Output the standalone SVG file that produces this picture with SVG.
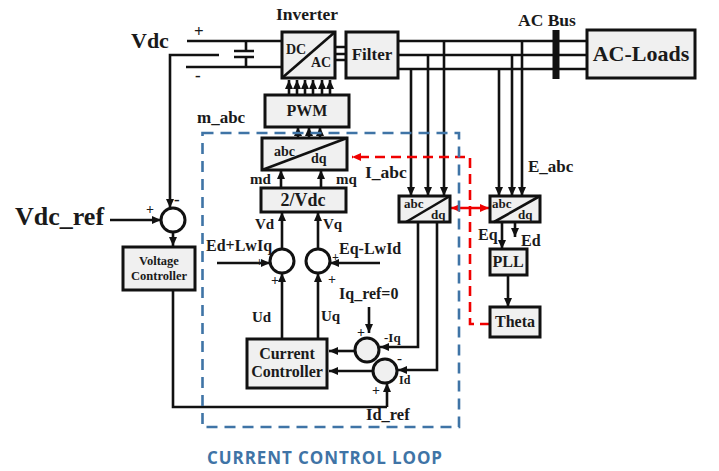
<svg xmlns="http://www.w3.org/2000/svg" width="719" height="471" viewBox="0 0 719 471">
<defs>
<marker id="ah" markerUnits="userSpaceOnUse" markerWidth="10" markerHeight="10" refX="9" refY="5" orient="auto"><path d="M0,1 L9,5 L0,9 Z" fill="#111"/></marker>
<marker id="rh" markerUnits="userSpaceOnUse" markerWidth="10" markerHeight="10" refX="9" refY="5" orient="auto-start-reverse"><path d="M0,1 L9,5 L0,9 Z" fill="#f00000"/></marker>
</defs>
<style>
.b{fill:#f0f0f0;stroke:#111;stroke-width:3}
.c{fill:#f0f0f0;stroke:#111;stroke-width:3}
.w{fill:#fff;stroke:#111;stroke-width:3}
.l{fill:none;stroke:#111;stroke-width:2.6}
.a{fill:none;stroke:#111;stroke-width:2.6;marker-end:url(#ah)}
.t{font-family:"Liberation Serif",serif;font-weight:bold;fill:#1a1a1a;font-size:15px}
.m{text-anchor:middle}
</style>
<rect width="719" height="471" fill="#fff"/>
<g id="connectors">
<path class="l" d="M187,41H282M186,67H282M219,55H170V196"/>
<path class="l" d="M246,41V51M246,57V67M234,51H254M234,57H254"/>
<path class="l" d="M335,47H346M335,54H346M335,60H346"/>
<path class="l" d="M398,41H587M398,55H587M398,69H587"/>
<path class="a" d="M298,138V127"/><path class="a" d="M309,138V127"/><path class="a" d="M320,138V127"/>
<path class="a" d="M289,95V80"/><path class="a" d="M297,95V80"/><path class="a" d="M305,95V80"/><path class="a" d="M313,95V80"/><path class="a" d="M322,95V80"/><path class="a" d="M330,95V80"/>
<path class="a" d="M281,188V170"/><path class="a" d="M321,188V170"/>
<path class="a" d="M282,249V212"/><path class="a" d="M318,249V212"/>
<path class="a" d="M282,339V273"/><path class="a" d="M318,339V273"/>
<path class="a" d="M217,263H270"/><path class="a" d="M380,263H330"/>
<path class="a" d="M170,196V208"/>
<path class="a" d="M110,220H161"/>
<path class="a" d="M173,232V246"/>
<path class="l" d="M173,290V407H387"/><path class="a" d="M387,407V383"/>
<path class="a" d="M411,69V196"/><path class="a" d="M428,55V196"/><path class="a" d="M444,41V196"/>
<path class="a" d="M499,69V196"/><path class="a" d="M512,55V196"/><path class="a" d="M522,41V196"/>
<path class="a" d="M502,222V249"/><path class="a" d="M515,222V237"/>
<path class="a" d="M508,275V307"/>
<path class="a" d="M418,222V347H380"/><path class="a" d="M437,222V370H398"/>
<path class="a" d="M369,307V333"/>
<path class="a" d="M355,351H329"/><path class="a" d="M373,371H329"/>
<path d="M490,324H470V157H352" fill="none" stroke="#f00000" stroke-width="2.6" stroke-dasharray="10 6" marker-end="url(#rh)"/>
<path d="M451,208H489" fill="none" stroke="#f00000" stroke-width="2.4" marker-start="url(#rh)" marker-end="url(#rh)"/>
<rect x="202.500" y="133" width="256.500" height="294" fill="none" stroke="#3f74a6" stroke-width="2.6" stroke-dasharray="11 7"/>
<rect x="552.500" y="30" width="7" height="49" fill="#111"/>
</g>
<g id="inverter"><rect class="b" x="282" y="32" width="53" height="46"/><path class="l" d="M282,78L335,32"/><text class="t" x="286" y="54" style="font-size:14px">DC</text><text class="t" x="311" y="67" style="font-size:14px">AC</text><text class="t m" x="307" y="20" style="font-size:17.500px">Inverter</text></g>
<g id="filter"><rect class="b" x="346" y="32" width="52" height="46"/><text class="t m" x="372" y="60" style="font-size:17px">Filter</text></g>
<g id="ac-loads"><rect class="b" x="587" y="30" width="108" height="48"/><text class="t m" x="641" y="61" style="font-size:22px">AC-Loads</text></g>
<g id="pwm"><rect class="b" x="265" y="95" width="84" height="32"/><text class="t m" x="307" y="116" style="font-size:16px">PWM</text></g>
<g id="abc-dq-1"><rect class="b" x="262" y="138" width="85" height="32"/><path class="l" d="M262,170L347,138"/><text class="t" x="274" y="156" style="font-size:14px">abc</text><text class="t" x="311" y="163" style="font-size:14px">dq</text></g>
<g id="two-vdc"><rect class="b" x="261" y="188" width="85" height="24"/><text class="t m" x="303" y="206" style="font-size:18px">2/Vdc</text></g>
<g id="sum-d"><circle class="w" cx="282" cy="261" r="12"/></g>
<g id="sum-q"><circle class="w" cx="318" cy="261" r="12"/></g>
<g id="sum-vdc"><circle class="w" cx="173" cy="220" r="12"/></g>
<g id="voltage-controller"><rect class="b" x="123" y="247" width="72" height="43"/><text class="t m" x="159" y="265" style="font-size:12.500px">Voltage</text><text class="t m" x="159" y="280" style="font-size:12.500px">Controller</text></g>
<g id="current-controller"><rect class="b" x="247" y="339" width="80" height="49"/><text class="t m" x="287" y="359" style="font-size:16px">Current</text><text class="t m" x="287" y="377" style="font-size:16px">Controller</text></g>
<g id="sum-iq"><circle class="c" cx="367" cy="350" r="12"/></g>
<g id="sum-id"><circle class="c" cx="385" cy="371" r="12"/></g>
<g id="abc-dq-2"><rect class="b" x="399" y="196" width="51" height="26"/><path class="l" d="M406,222L450,196"/><text class="t" x="404" y="208" style="font-size:13px">abc</text><text class="t" x="431" y="219" style="font-size:13px">dq</text></g>
<g id="abc-dq-3"><rect class="b" x="490" y="196" width="50" height="26"/><path class="l" d="M494,222L540,196"/><text class="t" x="492" y="208" style="font-size:13px">abc</text><text class="t" x="518" y="219" style="font-size:13px">dq</text></g>
<g id="pll"><rect class="b" x="490" y="249" width="37" height="26"/><text class="t m" x="508" y="267" style="font-size:16px">PLL</text></g>
<g id="theta"><rect class="b" x="490" y="307" width="50" height="30"/><text class="t m" x="515" y="327" style="font-size:16px">Theta</text></g>
<g id="labels">
<text class="t" x="131" y="48" style="font-size:22px">Vdc</text>
<text class="t" x="15" y="225" style="font-size:26px">Vdc_ref</text>
<text class="t" x="197" y="123" style="font-size:17px">m_abc</text>
<text class="t" x="518" y="26" style="font-size:17.500px">AC Bus</text>
<text class="t" x="528" y="172" style="font-size:17px">E_abc</text>
<text class="t" x="365" y="178" style="font-size:17.500px">I_abc</text>
<text class="t" x="250" y="184">md</text><text class="t" x="336" y="184">mq</text>
<text class="t" x="255" y="229">Vd</text><text class="t" x="323" y="229">Vq</text>
<text class="t" x="206" y="251" style="font-size:16px">Ed+LwIq</text><text class="t" x="339" y="254" style="font-size:16px">Eq-LwId</text>
<text class="t" x="339" y="299" style="font-size:16px">Iq_ref=0</text>
<text class="t" x="252" y="322">Ud</text><text class="t" x="321" y="321">Uq</text>
<text class="t" x="478" y="240" style="font-size:16px">Eq</text><text class="t" x="521" y="246" style="font-size:16px">Ed</text>
<text class="t" x="384" y="342" style="font-size:13px">-Iq</text>
<text class="t" x="399" y="384" style="font-size:12px">Id</text>
<text class="t" x="366" y="420" style="font-size:16.500px">Id_ref</text>
<text class="t" x="194" y="37" style="font-size:17px">+</text><text class="t" x="195" y="81" style="font-size:17px">-</text>
<text class="t" x="146" y="214" style="font-size:14px">+</text><text class="t" x="174" y="205" style="font-size:17px">-</text>
<text class="t" x="256" y="266" style="font-size:12px">+</text><text class="t" x="271" y="285" style="font-size:14px">+</text>
<text class="t" x="332" y="261" style="font-size:12px">+</text><text class="t" x="328" y="284" style="font-size:14px">+</text>
<text class="t" x="357" y="337" style="font-size:14px">+</text>
<text class="t" x="397" y="363" style="font-size:15px">-</text>
<text class="t" x="372" y="395" style="font-size:14px">+</text>
<text x="325" y="464" text-anchor="middle" style="font-family:'Open Sans',sans-serif;font-weight:bold;font-size:17px;letter-spacing:.9px;fill:#3f74a6">CURRENT CONTROL LOOP</text>
</g>
</svg>
